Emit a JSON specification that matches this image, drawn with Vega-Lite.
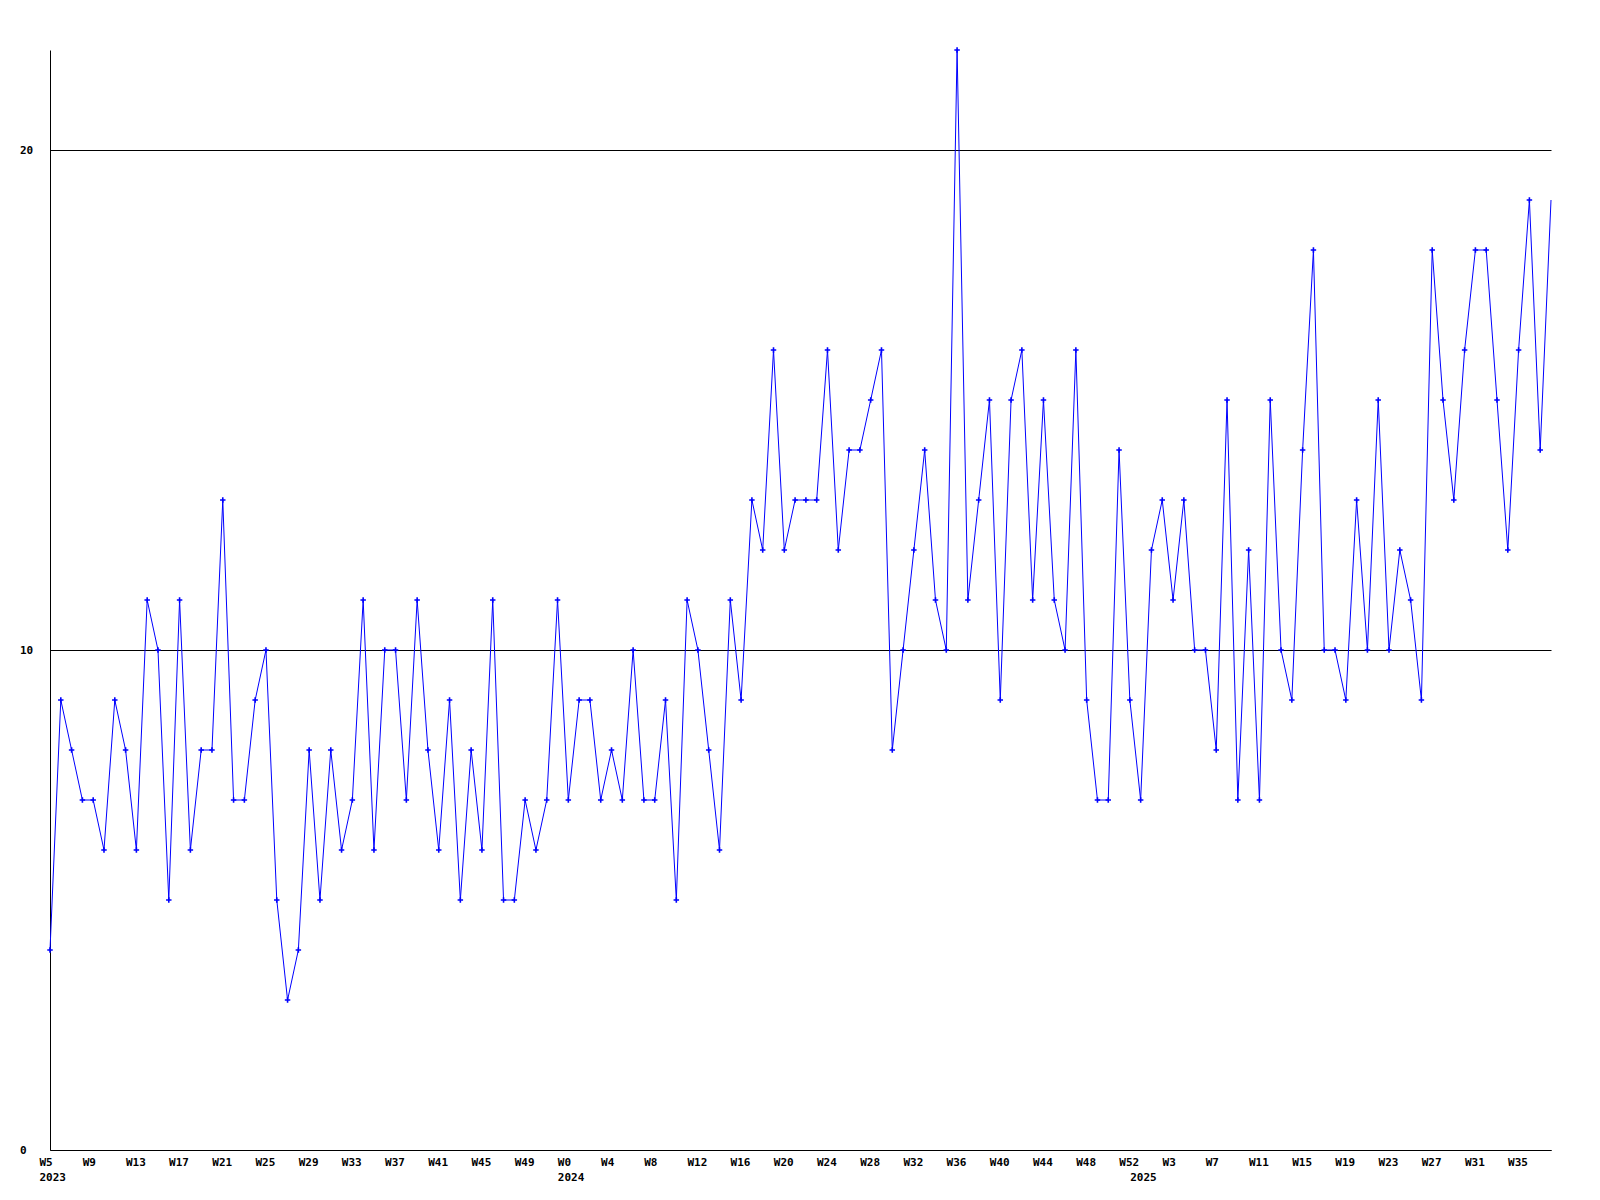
{
  "$schema": "https://vega.github.io/schema/vega-lite/v6.json",
  "autosize": {"type": "none"},
  "padding": {"left": 50, "top": 50, "right": 49, "bottom": 50},
  "width": 1501,
  "height": 1100,
  "background": "white",
  "config": {
    "view": {"stroke": null},
    "axis": {
      "labelFont": "DejaVu Sans Mono",
      "labelFontWeight": "bold",
      "labelFontSize": 11,
      "labelColor": "black",
      "domainColor": "black",
      "domainWidth": 1,
      "ticks": false,
      "tickSize": 0,
      "title": null
    }
  },
  "data": {
    "values": [
      {"key": "2023 W5", "value": 4}, {"key": "2023 W6", "value": 9}, {"key": "2023 W7", "value": 8}, {"key": "2023 W8", "value": 7},
      {"key": "2023 W9", "value": 7}, {"key": "2023 W10", "value": 6}, {"key": "2023 W11", "value": 9}, {"key": "2023 W12", "value": 8},
      {"key": "2023 W13", "value": 6}, {"key": "2023 W14", "value": 11}, {"key": "2023 W15", "value": 10}, {"key": "2023 W16", "value": 5},
      {"key": "2023 W17", "value": 11}, {"key": "2023 W18", "value": 6}, {"key": "2023 W19", "value": 8}, {"key": "2023 W20", "value": 8},
      {"key": "2023 W21", "value": 13}, {"key": "2023 W22", "value": 7}, {"key": "2023 W23", "value": 7}, {"key": "2023 W24", "value": 9},
      {"key": "2023 W25", "value": 10}, {"key": "2023 W26", "value": 5}, {"key": "2023 W27", "value": 3}, {"key": "2023 W28", "value": 4},
      {"key": "2023 W29", "value": 8}, {"key": "2023 W30", "value": 5}, {"key": "2023 W31", "value": 8}, {"key": "2023 W32", "value": 6},
      {"key": "2023 W33", "value": 7}, {"key": "2023 W34", "value": 11}, {"key": "2023 W35", "value": 6}, {"key": "2023 W36", "value": 10},
      {"key": "2023 W37", "value": 10}, {"key": "2023 W38", "value": 7}, {"key": "2023 W39", "value": 11}, {"key": "2023 W40", "value": 8},
      {"key": "2023 W41", "value": 6}, {"key": "2023 W42", "value": 9}, {"key": "2023 W43", "value": 5}, {"key": "2023 W44", "value": 8},
      {"key": "2023 W45", "value": 6}, {"key": "2023 W46", "value": 11}, {"key": "2023 W47", "value": 5}, {"key": "2023 W48", "value": 5},
      {"key": "2023 W49", "value": 7}, {"key": "2023 W50", "value": 6}, {"key": "2023 W51", "value": 7}, {"key": "2023 W52", "value": 11},
      {"key": "2024 W0", "value": 7}, {"key": "2024 W1", "value": 9}, {"key": "2024 W2", "value": 9}, {"key": "2024 W3", "value": 7},
      {"key": "2024 W4", "value": 8}, {"key": "2024 W5", "value": 7}, {"key": "2024 W6", "value": 10}, {"key": "2024 W7", "value": 7},
      {"key": "2024 W8", "value": 7}, {"key": "2024 W9", "value": 9}, {"key": "2024 W10", "value": 5}, {"key": "2024 W11", "value": 11},
      {"key": "2024 W12", "value": 10}, {"key": "2024 W13", "value": 8}, {"key": "2024 W14", "value": 6}, {"key": "2024 W15", "value": 11},
      {"key": "2024 W16", "value": 9}, {"key": "2024 W17", "value": 13}, {"key": "2024 W18", "value": 12}, {"key": "2024 W19", "value": 16},
      {"key": "2024 W20", "value": 12}, {"key": "2024 W21", "value": 13}, {"key": "2024 W22", "value": 13}, {"key": "2024 W23", "value": 13},
      {"key": "2024 W24", "value": 16}, {"key": "2024 W25", "value": 12}, {"key": "2024 W26", "value": 14}, {"key": "2024 W27", "value": 14},
      {"key": "2024 W28", "value": 15}, {"key": "2024 W29", "value": 16}, {"key": "2024 W30", "value": 8}, {"key": "2024 W31", "value": 10},
      {"key": "2024 W32", "value": 12}, {"key": "2024 W33", "value": 14}, {"key": "2024 W34", "value": 11}, {"key": "2024 W35", "value": 10},
      {"key": "2024 W36", "value": 22}, {"key": "2024 W37", "value": 11}, {"key": "2024 W38", "value": 13}, {"key": "2024 W39", "value": 15},
      {"key": "2024 W40", "value": 9}, {"key": "2024 W41", "value": 15}, {"key": "2024 W42", "value": 16}, {"key": "2024 W43", "value": 11},
      {"key": "2024 W44", "value": 15}, {"key": "2024 W45", "value": 11}, {"key": "2024 W46", "value": 10}, {"key": "2024 W47", "value": 16},
      {"key": "2024 W48", "value": 9}, {"key": "2024 W49", "value": 7}, {"key": "2024 W50", "value": 7}, {"key": "2024 W51", "value": 14},
      {"key": "2024 W52", "value": 9},
      {"key": "2025 W0", "value": 7}, {"key": "2025 W1", "value": 12}, {"key": "2025 W2", "value": 13}, {"key": "2025 W3", "value": 11},
      {"key": "2025 W4", "value": 13}, {"key": "2025 W5", "value": 10}, {"key": "2025 W6", "value": 10}, {"key": "2025 W7", "value": 8},
      {"key": "2025 W8", "value": 15}, {"key": "2025 W9", "value": 7}, {"key": "2025 W10", "value": 12}, {"key": "2025 W11", "value": 7},
      {"key": "2025 W12", "value": 15}, {"key": "2025 W13", "value": 10}, {"key": "2025 W14", "value": 9}, {"key": "2025 W15", "value": 14},
      {"key": "2025 W16", "value": 18}, {"key": "2025 W17", "value": 10}, {"key": "2025 W18", "value": 10}, {"key": "2025 W19", "value": 9},
      {"key": "2025 W20", "value": 13}, {"key": "2025 W21", "value": 10}, {"key": "2025 W22", "value": 15}, {"key": "2025 W23", "value": 10},
      {"key": "2025 W24", "value": 12}, {"key": "2025 W25", "value": 11}, {"key": "2025 W26", "value": 9}, {"key": "2025 W27", "value": 18},
      {"key": "2025 W28", "value": 15}, {"key": "2025 W29", "value": 13}, {"key": "2025 W30", "value": 16}, {"key": "2025 W31", "value": 18},
      {"key": "2025 W32", "value": 18}, {"key": "2025 W33", "value": 15}, {"key": "2025 W34", "value": 12}, {"key": "2025 W35", "value": 16},
      {"key": "2025 W36", "value": 19}, {"key": "2025 W37", "value": 14}, {"key": "2025 W38", "value": 19}
    ]
  },
  "encoding": {
    "x": {
      "field": "key",
      "type": "ordinal",
      "sort": null,
      "scale": {"type": "point", "padding": 0},
      "axis": {
        "values": ["2023 W5", "2023 W9", "2023 W13", "2023 W17", "2023 W21", "2023 W25", "2023 W29", "2023 W33", "2023 W37", "2023 W41", "2023 W45", "2023 W49",
                   "2024 W0", "2024 W4", "2024 W8", "2024 W12", "2024 W16", "2024 W20", "2024 W24", "2024 W28", "2024 W32", "2024 W36", "2024 W40", "2024 W44", "2024 W48", "2024 W52",
                   "2025 W0", "2025 W3", "2025 W7", "2025 W11", "2025 W15", "2025 W19", "2025 W23", "2025 W27", "2025 W31", "2025 W35"],
        "labelExpr": "(datum.value == '2023 W5' || datum.value == '2024 W0') ? [split(datum.value, ' ')[1], split(datum.value, ' ')[0]] : datum.value == '2025 W0' ? [' ', '2025'] : split(datum.value, ' ')[1]",
        "labelAngle": 0,
        "labelAlign": "left",
        "labelBaseline": "top",
        "labelOffset": -11,
        "labelPadding": 6,
        "labelLineHeight": 15,
        "labelOverlap": false,
        "labelBound": false,
        "labelFlush": false,
        "grid": false
      }
    },
    "y": {
      "field": "value",
      "type": "quantitative",
      "scale": {"domain": [0, 22], "nice": false, "zero": true},
      "axis": {
        "values": [0, 10, 20],
        "grid": true,
        "gridColor": "black",
        "gridOpacity": 1,
        "gridWidth": 1,
        "labelAlign": "left",
        "labelBaseline": "middle",
        "labelPadding": 30.5,
        "labelFlush": false,
        "labelBound": false
      }
    }
  },
  "layer": [
    {
      "mark": {"type": "line", "color": "#0000ff", "strokeWidth": 1, "clip": false}
    },
    {
      "transform": [{"filter": "datum.key != '2025 W38'"}],
      "mark": {"type": "point", "shape": "M-1,0H1M0,-1V1", "size": 30, "filled": false, "stroke": "#0000ff", "strokeWidth": 1.6, "opacity": 1}
    }
  ]
}
